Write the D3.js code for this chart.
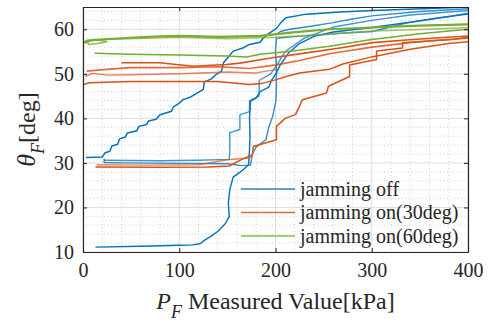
<!DOCTYPE html>
<html>
<head>
<meta charset="utf-8">
<script src="https://cdn.jsdelivr.net/npm/d3@7"></script>
<style>
  html, body { margin: 0; padding: 0; background: #fff; }
  svg { display: block; }
</style>
</head>
<body>
<svg id="chart" width="496" height="324"></svg>
<script>
// axis ticks
const xTicks = [0, 100, 200, 300, 400];
const yTicks = [10, 20, 30, 40, 50, 60];
const legendLabels = ['jamming off', 'jamming on(30deg)', 'jamming on(60deg)'];

// jamming off  [P_F kPa, theta deg]
const offUp1 = [[3,31.2],[20,31.3],[23,32.3],[28,32.6],[30,33.8],[36,34.2],[38,35.4],[44,35.8],[46,36.7],[56,37.2],[58,38.2],[66,38.6],[68,39.4],[76,39.8],[80,40.8],[92,41.6],[94,42.6],[100,43.4],[104,44.2],[112,44.8],[118,45.6],[125,46.5],[126,48.2],[133,48.8],[138,49.8],[144,50.6],[146,52.5],[150,53.5],[156,55.1],[166,55.8],[173,56.6],[184,57.1],[188,58.2],[194,59.2],[201,60.2],[206,61.6],[211,62.6],[232,63.4],[267,63.9],[301,64.2],[353,64.6],[400,65]];
const offUp2 = [[13,11.1],[60,11.3],[100,11.5],[114,11.6],[122,11.9],[126,12.6],[132,13.4],[140,14.6],[148,16.4],[152,18],[151,21],[152.5,24],[156,26.8],[165,28.2],[172,29.6],[173,33],[173.5,36],[173,40],[174,43.8],[180,44.6],[184,46],[193,47],[196,48.6],[201,50.2],[205,52],[214,54.8],[225,56.8],[240,58.4],[260,59.4],[300,60.4],[340,61.6],[370,62.6],[400,63.4]];
const offDown1 = [[400,63.6],[370,62.5],[336,61.4],[301,59.5],[267,59.1],[222,58.4],[201,58],[200,55],[201,52],[201,48],[200.5,44],[197,40.4],[193,38],[190,35.2],[180,33.6],[176,32],[174,29.5],[165,29.4],[150,29.8],[100,29.9],[40,30],[22,30.1],[22,31]];
const offUp3 = [[22,30.6],[80,30.5],[120,30.6],[152,30.8],[152.5,33],[152.5,36.8],[163,37.5],[163,40.8],[173,41.5],[173,44],[183,45],[183,48.5],[195,50],[203,52.5],[210,55],[230,58],[260,60.5],[300,62],[340,63.2],[400,64.2]];
const offDown2 = [[400,64.6],[350,64],[300,63],[280,62.3],[260,61.5],[240,60.8],[215,60],[205,59.5],[201,58.8]];

// jamming on (30deg)
const on30Low = [[13,29.1],[80,29],[130,29.1],[152,29.3],[165,30.8],[176,31.8],[177,33.7],[201,35.2],[201,38.2],[210,40],[221,40.9],[228,44.2],[253,45.7],[255,47.2],[277,49.4],[277,52],[305,53.2],[305,55.1],[332,55.8],[332,57],[356,57.3],[384,57.7],[400,58.2]];
const on30Low2 = [[14,29.6],[60,29.5],[120,29.6],[150,30.7],[173,31.1],[176,31.6]];
const on30A = [[40,52.5],[80,52.5],[114,51.7],[149,52.1],[163,52.4],[197,53.6],[232,54.7],[267,55.8],[301,57],[336,57.6],[370,58.1],[400,58.5]];
const on30B = [[4,50.6],[25,51],[49,51.4],[100,51.4],[142,51.6],[173,51.2],[201,52],[225,53],[256,54.5],[300,56],[340,57],[370,57.6],[400,58]];
const on30C = [[0.3,47.6],[7,48],[49,48.3],[100,48.3],[140,48.3],[173,47.6],[185,47.8],[201,48.7],[211,49.4],[225,50.2],[256,51],[270,52.2],[300,53.8],[340,55.5],[380,56.8],[400,57.2]];
const on30D = [[2,49.4],[10,50.1],[25,49.7],[50,49.8],[100,50],[150,50.4],[180,50.2],[201,51]];

// jamming on (60deg)
const on60A = [[1,57],[4,57.4],[18,57.7],[49,58.1],[80,58.4],[101,58.5],[142,58.3],[184,58.5],[218,59.3],[256,60],[301,60.4],[350,60.8],[400,61.1]];
const on60B = [[2,56.8],[10,57.6],[40,57.8],[100,58.2],[150,57.9],[200,58.2],[250,58.8],[300,59.6],[360,60],[400,60.4]];
const on60C = [[12,54.6],[49,54.4],[101,54.2],[149,54],[170,53.8],[184,54.4],[218,55.1],[256,56.2],[300,57.7],[350,59],[400,60]];
const on60D = [[3,57.6],[6,56.6],[15,56.8],[25,57.2],[12,57.7],[3,57.4]];

const colors = ['#0072BD', '#D95319', '#77AC30'];
const traces = [
  {data: offUp1, c: 0, o: 1, w: 1.5}, {data: offUp2, c: 0, o: 1, w: 1.4}, {data: offDown1, c: 0, o: 0.8, w: 1.4},
  {data: offUp3, c: 0, o: 0.75, w: 1.4}, {data: offDown2, c: 0, o: 0.8, w: 1.4},
  {data: on30Low, c: 1, o: 1, w: 1.5}, {data: on30Low2, c: 1, o: 0.7, w: 1.4}, {data: on30A, c: 1, o: 1, w: 1.6},
  {data: on30B, c: 1, o: 0.85, w: 1.6}, {data: on30C, c: 1, o: 1, w: 1.5}, {data: on30D, c: 1, o: 0.7, w: 1.4},
  {data: on60A, c: 2, o: 1, w: 2.2}, {data: on60B, c: 2, o: 0.7, w: 1.6}, {data: on60C, c: 2, o: 1, w: 1.5}, {data: on60D, c: 2, o: 0.8, w: 1.5}
];

const margin = {left: 83, right: 28, top: 7, bottom: 72};
const W = 496, H = 324;
const iw = W - margin.left - margin.right, ih = H - margin.top - margin.bottom;
const serif = '"Liberation Serif", "Times New Roman", serif';

const svg = d3.select('#chart');
const g = svg.append('g').attr('transform', `translate(${margin.left},${margin.top})`);

const x = d3.scaleLinear().domain([0, 400]).range([0, iw]);
const y = d3.scaleLinear().domain([10, 65]).range([ih, 0]);

// minor grid (dotted)
g.append('g').selectAll('line').data(d3.range(0, 401, 20).filter(v => v % 100)).join('line')
  .attr('x1', d => x(d)).attr('x2', d => x(d)).attr('y1', 0).attr('y2', ih)
  .attr('stroke', '#c4c4c4').attr('stroke-width', 0.8).attr('stroke-dasharray', '1,2.5');
g.append('g').selectAll('line').data(d3.range(10, 65.1, 2).filter(v => v % 10)).join('line')
  .attr('x1', 0).attr('x2', iw).attr('y1', d => y(d)).attr('y2', d => y(d))
  .attr('stroke', '#c4c4c4').attr('stroke-width', 0.8).attr('stroke-dasharray', '1,2.5');

// major grid
g.append('g').selectAll('line').data(xTicks).join('line')
  .attr('x1', d => x(d)).attr('x2', d => x(d)).attr('y1', 0).attr('y2', ih)
  .attr('stroke', '#dedede').attr('stroke-width', 1);
g.append('g').selectAll('line').data(yTicks).join('line')
  .attr('x1', 0).attr('x2', iw).attr('y1', d => y(d)).attr('y2', d => y(d))
  .attr('stroke', '#dedede').attr('stroke-width', 1);

// lines
g.append('clipPath').attr('id', 'clip').append('rect').attr('width', iw).attr('height', ih);
const line = d3.line().x(d => x(d[0])).y(d => y(d[1]));
g.append('g').attr('clip-path', 'url(#clip)')
  .selectAll('path').data(traces).join('path')
  .attr('d', d => line(d.data))
  .attr('fill', 'none')
  .attr('stroke', d => colors[d.c])
  .attr('stroke-opacity', d => d.o)
  .attr('stroke-width', d => d.w)
  .attr('stroke-linejoin', 'round');

// axes box with inward ticks
const axisColor = '#262626';
const xb = g.append('g').attr('transform', `translate(0,${ih})`)
  .call(d3.axisBottom(x).tickValues(xTicks).tickSizeInner(-4).tickSizeOuter(0).tickPadding(11));
const yl = g.append('g')
  .call(d3.axisLeft(y).tickValues(yTicks).tickSizeInner(-4).tickSizeOuter(0).tickPadding(9));
const xt = g.append('g')
  .call(d3.axisTop(x).tickValues(xTicks).tickSizeInner(-4).tickSizeOuter(0).tickFormat(''));
const yr = g.append('g').attr('transform', `translate(${iw},0)`)
  .call(d3.axisRight(y).tickValues(yTicks).tickSizeInner(-4).tickSizeOuter(0).tickFormat(''));
[xb, yl, xt, yr].forEach(a => {
  a.attr('font-family', serif).attr('font-size', 20);
  a.select('.domain').attr('stroke', axisColor).attr('stroke-width', 1.2);
  a.selectAll('.tick line').attr('stroke', axisColor);
  a.selectAll('.tick text').attr('fill', axisColor);
});

// axis labels
const xLab = svg.append('text').attr('x', margin.left + iw / 2).attr('y', 309)
  .attr('text-anchor', 'middle').attr('fill', axisColor)
  .attr('font-family', serif).attr('font-size', 24);
xLab.append('tspan').attr('font-style', 'italic').text('P');
xLab.append('tspan').attr('font-style', 'italic').attr('dy', 9).attr('font-size', 18).text('F');
xLab.append('tspan').attr('dy', -9).text(' Measured Value[kPa]');

const yLab = svg.append('text')
  .attr('transform', `translate(35,${margin.top + ih / 2}) rotate(-90)`)
  .attr('text-anchor', 'middle').attr('fill', axisColor)
  .attr('font-family', serif).attr('font-size', 24);
yLab.append('tspan').attr('font-style', 'italic').attr('font-size', 26).text('θ');
yLab.append('tspan').attr('font-style', 'italic').attr('dy', 9).attr('font-size', 18).text('F');
yLab.append('tspan').attr('dy', -9).text('[deg]');

// legend
const lg = svg.append('g').attr('font-family', serif).attr('font-size', 20);
const rows = lg.selectAll('g').data(legendLabels).join('g')
  .attr('transform', (d, i) => `translate(241,${189 + i * 23.5})`);
rows.append('line').attr('x1', 0).attr('x2', 54).attr('y1', 0).attr('y2', 0)
  .attr('stroke', (d, i) => colors[i]).attr('stroke-width', 1.3).attr('stroke-opacity', 0.85);
rows.append('text').attr('x', 59).attr('y', 6.5).attr('fill', axisColor).text(d => d);
</script>
</body>
</html>
